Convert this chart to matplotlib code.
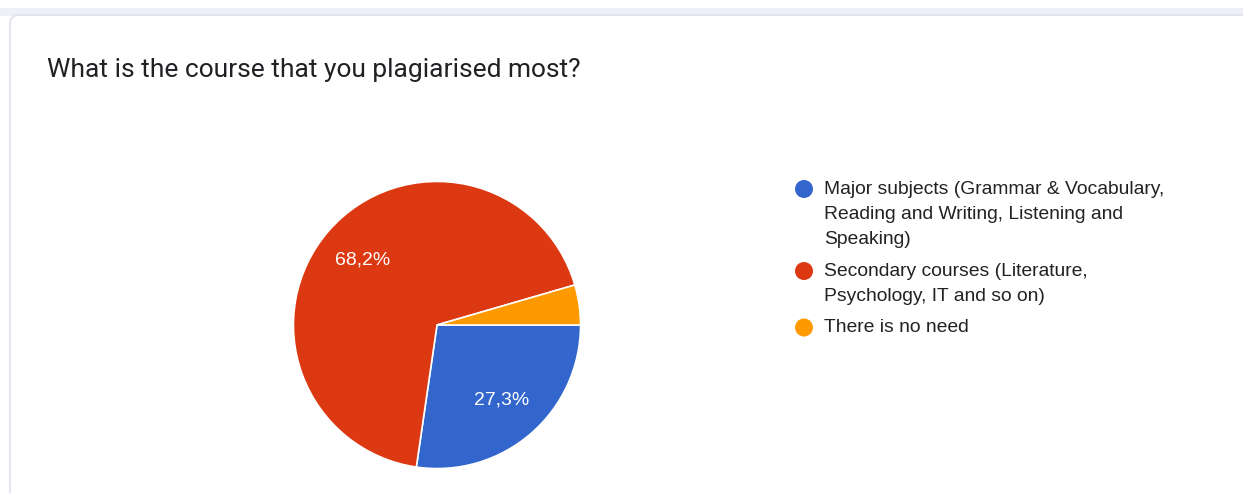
import matplotlib.pyplot as plt
from matplotlib.patches import FancyBboxPatch, Rectangle, Circle

title = "What is the course that you plagiarised most?"
categories = [
    "Major subjects (Grammar & Vocabulary,\nReading and Writing, Listening and\nSpeaking)",
    "Secondary courses (Literature,\nPsychology, IT and so on)",
    "There is no need",
]
shares = [27.3, 68.2, 4.5]
colors = ["#3366cc", "#dc3912", "#ff9900"]

W, H = 1243, 493
fig = plt.figure(figsize=(W / 100, H / 100), dpi=100)
fig.patch.set_facecolor("white")

# full-figure overlay in pixel units for the card, title and legend
bg = fig.add_axes([0, 0, 1, 1])
bg.set_xlim(0, W)
bg.set_ylim(H, 0)
bg.axis("off")

bg.add_patch(Rectangle((0, 8), W, 8, facecolor="#eef0f8", edgecolor="none"))
bg.add_patch(FancyBboxPatch((10, 15), W + 40, H + 40,
                            boxstyle="round,pad=0,rounding_size=9",
                            facecolor="white", edgecolor="#e4e5f0", linewidth=1.5))

bg.text(47, 70, title, fontsize=19, family="Roboto", color="#202124",
        va="center", ha="left")

# legend, circle lined up with the first line of each entry
y = 189
for label, c in zip(categories, colors):
    bg.add_patch(Circle((804, y), 9, facecolor=c, edgecolor="none"))
    for line in label.split("\n"):
        bg.text(824, y, line, fontsize=13.9, family="Liberation Sans",
                color="#222222", va="center", ha="left")
        y += 25.5
    y += 5.5

# pie chart, starts at 3 o'clock and runs clockwise
cx, cy, r = 437, 325, 145
ax = fig.add_axes([(cx - r) / W, (H - cy - r) / H, 2 * r / W, 2 * r / H])
wedges, texts, autotexts = ax.pie(
    shares, colors=colors, startangle=0, counterclock=False,
    autopct=lambda p: f"{p:.1f}%".replace(".", ",") if p > 5 else "",
    pctdistance=0.69,
    wedgeprops=dict(edgecolor="white", linewidth=1.2),
    textprops=dict(color="white", fontsize=14, family="Liberation Sans"),
)
ax.set_xlim(-1.01, 1.01)
ax.set_ylim(-1.01, 1.01)
ax.set_aspect("equal")
ax.axis("off")

fig.savefig("out.png", dpi=100)
